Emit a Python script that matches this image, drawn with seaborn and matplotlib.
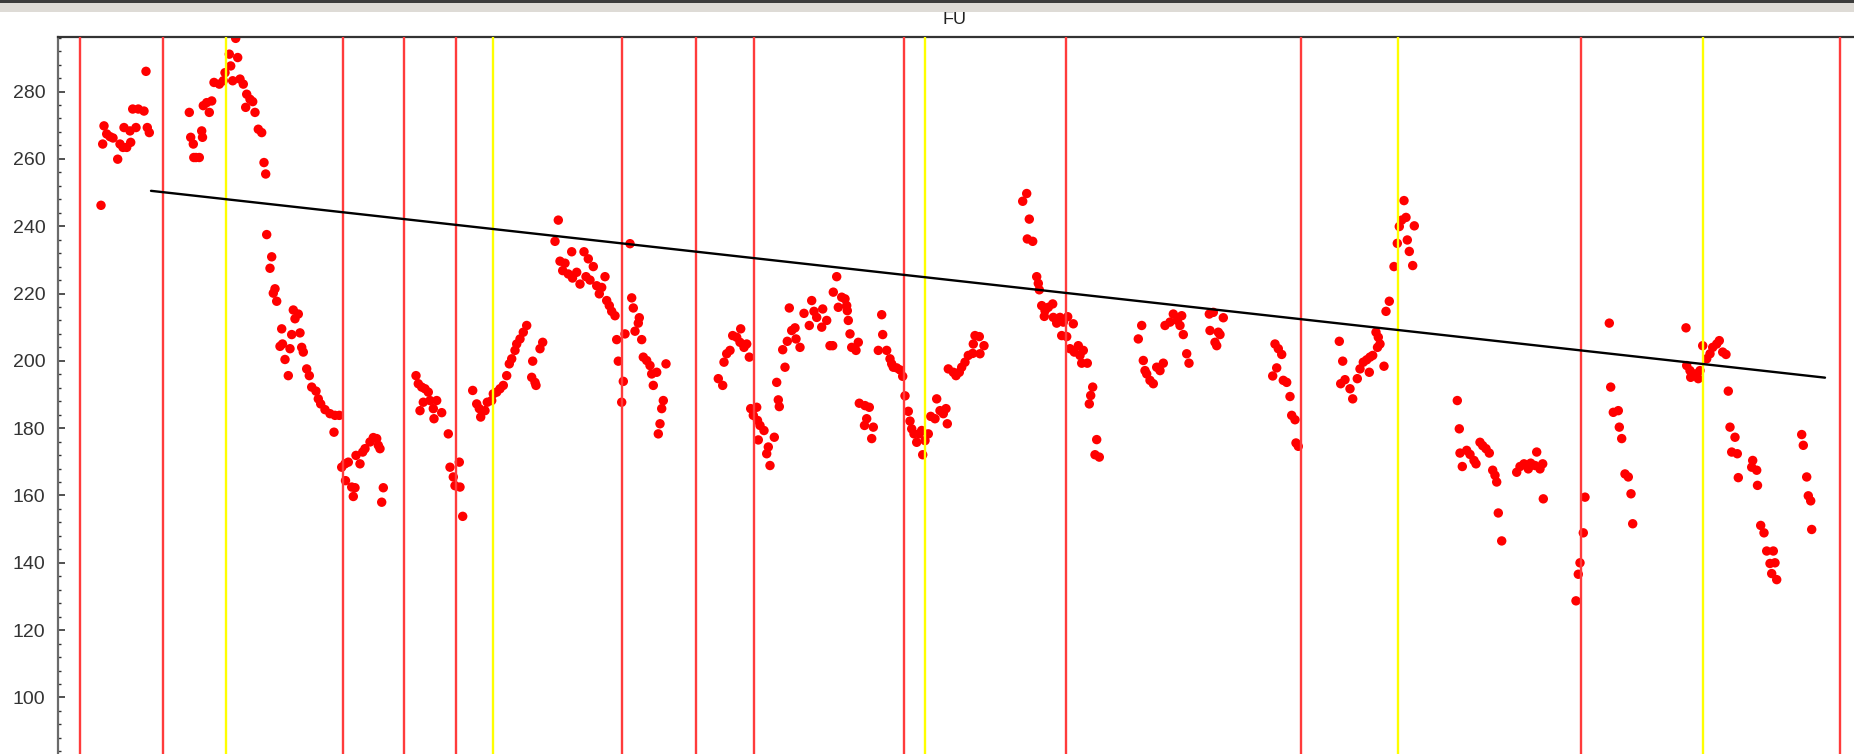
import matplotlib
matplotlib.use("Agg")
import matplotlib.pyplot as plt
from matplotlib.patches import Rectangle
from matplotlib.ticker import MultipleLocator
import pandas as pd
import seaborn as sns

# F0 track (Hz) against time index
t = [43, 44.7, 46, 48.7, 52, 55, 59.7, 62, 65, 66, 68.7, 72, 72.7, 74.7, 78, 80.3, 86, 88, 89.3, 91.3,
     131.3, 132.7, 135.3, 135.8, 138, 141.3, 143.7, 144.5, 145.3, 148.7, 151.3, 153.7, 156, 161.3, 165.3,
     167, 171.3, 172.7, 174.7, 177.7, 179.7, 182, 185.3, 187.7, 188.7, 192, 194.7, 197, 200.3, 203.7,
     206, 207.7, 208.7, 212, 213.7, 215.3, 217, 218.7, 222, 223.7, 224.5, 227, 230.3, 232, 233.7, 235.3,
     237, 240.3, 242, 243.7, 245.3, 248.7, 251.3, 253.7, 258, 260.3, 262.7, 267, 272, 276, 277, 281.3,
     283.7, 287, 287.5, 290.3, 293.7, 295.3, 297, 298, 302, 304.7, 307, 312, 315.3, 318.7, 320.3, 322,
     323.7, 325.3,
     358, 360.3, 362, 363.7, 365.3, 367, 370.3, 372, 375.3, 376, 378.7, 383.7, 390.3, 392, 395.3, 397,
     401.3, 402, 404.7,
     414.7, 418.7, 421.3, 422.7, 427, 429.3, 433.7, 435.3, 438.7, 442, 445.3, 448.7, 451.3, 453.7, 457,
     458.7, 462, 465.3, 468.7, 473.7, 474.7, 477, 478, 482, 484.7,
     497, 500.3, 502, 504.7, 507, 510.3, 513.7, 514.5, 518.7, 522, 526, 528, 530.3, 532, 535.3, 538.7,
     541.3, 543.7, 547, 548.7, 551.3, 553.7, 557, 558.7, 560.3, 563.7, 565.3, 567, 572, 573.7, 575.3,
     577, 580.3, 581.3, 583.7, 585.3, 588.7, 592, 593.7, 595.3, 598.7, 600.3, 602, 603.7, 605.3, 608,
     660.3, 664.7, 666, 668.7, 672, 674.7, 678.7, 682, 682.7, 686, 688.7, 691.3,
     692.7, 695.3, 698.7, 699.5, 700.3, 702, 706, 708.7, 710.3, 712, 716.3, 718.7, 720.3, 721.3, 724.7,
     727, 729.3, 731.3, 733.7, 737, 738, 742, 746, 751.3, 753.7, 756, 758.7, 763.7, 764.7, 768.7, 772,
     774.7, 775.3, 778.7, 780.3, 783.7, 787, 788.7, 789.3, 790.3, 792, 793.7, 798, 800.3,
     801.3, 807, 811.3, 808.7, 806.5, 815.3, 813.7,
     820.3, 823.7, 824.7, 828.7, 832, 833.7, 835.3, 838.7, 842, 844.7, 847, 850.3, 852, 853.7, 856,
     858.7, 861.3, 863.7, 864.7, 867, 870.3, 872.7, 877, 878.7, 882, 885.3, 888, 889.3,
     890.3, 895.3, 898, 901.3, 903.7, 907, 910.3, 914.7, 915.3, 917, 921.3, 922, 926,
     964.7, 968.7, 969.3, 971.3, 974.7, 978.7, 980.3, 981.3, 983.7, 986.3, 987, 990.3, 994.7, 995.3,
     998.7, 1002, 1003.7, 1005.3, 1008.7, 1009.7, 1012, 1015.3, 1016.3, 1020.3, 1022, 1023.7, 1025.3,
     1029.3, 1031.3, 1032.7, 1034.7, 1037, 1038.7, 1041.3,
     1080.3, 1083.7, 1085.3, 1087, 1088.7, 1092, 1095.3, 1098.7, 1102, 1105.3, 1107, 1112, 1115.3,
     1119.3, 1122, 1123.7, 1125.3, 1128.7, 1131,
     1151.3, 1152, 1155.3, 1157, 1158.7, 1160.3, 1162, 1165.3,
     1214.7, 1217, 1218.7, 1220.3, 1223.7, 1225.3, 1228.7, 1232, 1233.7, 1237, 1238, 1240.3,
     1281.3, 1282.7, 1284.7, 1287, 1292, 1294.7, 1299.3, 1302, 1305.3, 1308.7, 1311.3, 1312, 1314.7,
     1318, 1320.3, 1319.5, 1322, 1326, 1328, 1331.3, 1336, 1339.3, 1341.3, 1343.7, 1346, 1348, 1349.3,
     1351.3, 1354.7, 1356.3,
     1399.3, 1401.3, 1402, 1404.3, 1408.7, 1412, 1416, 1418, 1422, 1424.7, 1428, 1431.3, 1434.7, 1437,
     1438.7, 1440.3, 1443.7, 1458.7, 1462, 1466, 1470.3, 1472.7, 1477, 1478.7, 1482, 1484.7, 1485.3,
     1518, 1520.3, 1522, 1525.3, 1527,
     1551.3, 1552.7, 1555.3, 1560.3, 1561.3, 1563.7, 1567, 1570.3, 1573, 1574.7,
     1628, 1628.7, 1632, 1632.7, 1637, 1640.3, 1642, 1644.7, 1648.7, 1652, 1654.7, 1658.7, 1661.3,
     1664.7, 1668, 1670.3, 1672, 1673.7, 1677, 1679.3, 1680.3,
     1693.7, 1694.7, 1698.7, 1699.5, 1702.7, 1706, 1708.7, 1712, 1713.7, 1715.3, 1717, 1718.7,
     1743.7, 1745.3, 1748.7, 1750.3, 1752.7, 1753.7]

fu = [246.2, 264.4, 269.8, 267.4, 266.6, 266.2, 259.9, 264.4, 263.4, 269.3, 263.4, 268.3, 264.9, 274.8,
      269.3, 274.8, 274.2, 286.0, 269.3, 267.8,
      273.8, 266.4, 264.4, 260.4, 260.4, 260.4, 268.3, 266.4, 275.8, 276.7, 273.8, 277.2, 282.7, 282.2,
      283.2, 285.6, 291.1, 287.6, 283.2, 295.8, 290.1, 283.7, 282.2, 275.3, 279.2, 277.7, 277.0, 273.8,
      268.8, 267.8, 258.9, 255.5, 237.5, 227.5, 230.9, 220.1, 221.4, 217.7, 204.3, 209.5, 205.0, 200.4,
      195.6, 203.6, 207.8, 215.1, 212.5, 213.9, 208.3, 204.0, 202.6, 197.6, 195.6, 192.2, 191.0, 188.7,
      187.2, 185.5, 184.3, 178.8, 183.8, 183.8,
      168.4, 169.4, 164.4, 169.9, 162.5, 159.7, 162.3, 171.9, 169.4, 172.9, 173.9, 175.9, 177.2, 176.9,
      174.9, 173.9, 158.0, 162.3,
      195.6, 193.2, 185.2, 192.2, 187.7, 191.7, 190.7, 188.2, 185.8, 182.8, 188.2, 184.6, 178.3, 168.4,
      165.5, 162.9, 169.9, 162.5, 153.8,
      191.2, 187.2, 185.8, 183.3, 185.2, 187.7, 188.2, 190.2, 190.7, 191.7, 192.7, 195.6, 199.1, 200.6,
      203.1, 205.0, 206.5, 208.5, 210.5, 195.1, 199.9, 193.6, 192.7, 203.6, 205.5,
      235.5, 241.8, 229.6, 226.8, 229.0, 225.8, 232.4, 224.6, 226.3, 222.8, 232.4, 225.0, 230.3, 224.0,
      228.0, 222.3, 219.9, 221.8, 225.0, 217.9, 216.4, 214.7, 213.4, 206.3, 199.9, 187.7, 193.9, 208.0,
      234.8, 218.7, 215.7, 208.8, 211.2, 212.8, 206.3, 201.1, 200.1, 198.6, 196.1, 192.7, 196.6, 178.3,
      181.3, 185.8, 188.2, 199.1,
      194.7, 192.7, 199.6, 202.1, 203.1, 207.5, 207.0, 205.5, 209.5, 204.0, 205.0, 201.1,
      185.8, 183.8, 186.2, 182.3, 176.5, 180.8, 179.3, 172.4, 174.4, 168.9, 177.3, 193.6, 188.4, 186.4,
      203.3, 198.1, 205.8, 215.7, 209.0, 209.8, 206.5, 204.0, 214.1, 210.5, 217.9, 214.7, 212.9, 210.0,
      215.4, 212.0, 204.5, 204.5, 220.4, 225.0, 215.9, 218.9, 218.4, 216.4, 214.9, 212.0, 208.0, 204.0,
      203.1, 205.5,
      187.4, 186.7, 186.2, 182.8, 180.8, 180.3, 176.9,
      203.1, 213.7, 207.8, 203.1, 200.6, 199.1, 198.1, 197.9, 197.3, 195.4, 189.6, 185.0, 182.1, 179.8,
      178.3, 175.8, 178.3, 179.3, 172.1, 176.3, 178.3, 183.5, 182.8, 188.7, 185.2, 184.3, 185.8, 181.3,
      197.6, 196.6, 195.6, 196.6, 198.1, 199.6, 201.6, 202.2, 205.0, 207.5, 207.2, 202.1, 204.5,
      247.4, 249.7, 236.2, 242.1, 235.5, 225.0, 223.0, 221.1, 216.4, 213.2, 214.9, 215.9, 216.9, 212.9,
      211.2, 212.9, 207.5, 211.5, 207.2, 213.1, 203.6, 211.0, 202.6, 204.5, 201.6, 199.3, 203.1, 199.3,
      187.2, 189.7, 192.2, 172.1, 176.6, 171.4,
      206.5, 210.5, 200.1, 197.1, 196.1, 194.2, 193.2, 198.1, 197.1, 199.3, 210.5, 211.5, 213.9, 212.0,
      210.5, 213.4, 207.8, 202.1, 199.3,
      213.9, 209.0, 214.4, 205.5, 204.5, 208.5, 207.8, 212.8,
      195.5, 205.0, 197.9, 203.6, 201.9, 194.2, 193.6, 189.4, 183.8, 182.5, 175.6, 174.6,
      205.8, 193.2, 199.9, 194.4, 191.7, 188.7, 194.7, 197.6, 199.6, 200.3, 196.6, 201.1, 201.6, 208.5,
      207.0, 204.0, 205.0, 198.4, 214.7, 217.7, 228.0, 234.9, 239.9, 241.8, 247.6, 242.6, 235.9, 232.5,
      228.3, 240.1,
      188.2, 179.8, 172.6, 168.6, 173.4, 172.2, 170.4, 169.4, 175.8, 174.8, 173.9, 172.6, 167.5, 166.0,
      164.0, 154.8, 146.5, 166.9, 168.6, 169.4, 167.9, 169.6, 168.9, 172.9, 167.9, 169.4, 159.0,
      128.7, 136.6, 140.0, 148.9, 159.5,
      211.2, 192.2, 184.7, 185.2, 180.3, 176.9, 166.4, 165.5, 160.5, 151.6,
      209.8, 198.6, 197.1, 195.1, 196.1, 194.7, 197.1, 204.5, 200.6, 202.1, 204.0, 205.0, 206.0, 202.6,
      201.9, 191.0, 180.3, 172.9, 177.3, 172.4, 165.3,
      168.4, 170.4, 167.5, 163.0, 151.1, 148.9, 143.5, 139.8, 136.8, 143.5, 140.0, 135.0,
      178.1, 174.9, 165.5, 159.9, 158.4, 149.9]

# Segment boundaries (red) and syllable centres (yellow)
red_marks = [22, 105, 285, 346, 398, 564, 638, 696, 846, 1008, 1243, 1523, 1782]
yellow_marks = [168, 435, 867, 1340, 1645]

# Declination trend line end points
trend_t = [93, 1767]
trend_fu = [250.5, 195.0]

df = pd.DataFrame({"t": t, "fu": fu})
trend = pd.DataFrame({"t": trend_t, "fu": trend_fu})

sns.set_theme(style="white")
plt.rcParams["font.family"] = ["Liberation Sans", "DejaVu Sans"]

W, H = 1854, 754
fig = plt.figure(figsize=(W / 100, H / 100), dpi=100)
fig.patch.set_facecolor("white")
left_px, top_px = 58, 37
ax = fig.add_axes([left_px / W, 0, (W - left_px) / W, (H - top_px) / H])
ax.set_facecolor("white")

sns.scatterplot(data=df, x="t", y="fu", ax=ax, color="#ff0000", s=46,
                edgecolor="none", linewidth=0, zorder=2, legend=False)
for xm in red_marks:
    ax.axvline(xm, color="#ff3b3b", lw=1.7, zorder=3)
for xm in yellow_marks:
    ax.axvline(xm, color="#ffff00", lw=1.7, zorder=3)
sns.lineplot(data=trend, x="t", y="fu", ax=ax, color="black", lw=1.7, zorder=4)

ax.set_xlim(0, W - left_px)
ax.set_ylim(83.2, 296.2)
ax.set_xlabel("")
ax.set_ylabel("")
ax.set_xticks([])
ax.yaxis.set_major_locator(MultipleLocator(20))
ax.yaxis.set_minor_locator(MultipleLocator(4))
ax.tick_params(axis="y", which="major", direction="in", length=5, width=1.2,
               color="#333333", labelsize=14, labelcolor="#333333", pad=9, left=True)
ax.tick_params(axis="y", which="minor", direction="in", length=2.5, width=1.0,
               color="#333333", left=True)

for side in ("right", "bottom"):
    ax.spines[side].set_visible(False)
ax.spines["top"].set_color("#333333")
ax.spines["top"].set_linewidth(1.6)
ax.spines["left"].set_color("#6a6a6a")
ax.spines["left"].set_linewidth(1.6)

fig.text(954 / W, 1 - 19 / H, "FU", ha="center", va="center",
         fontsize=13, color="#222222")

# window header strip
fig.patches.append(Rectangle((0, 1 - 12 / H), 1, 12 / H, transform=fig.transFigure,
                             facecolor="#dedbd6", edgecolor="none", zorder=10))
fig.patches.append(Rectangle((0, 1 - 2.5 / H), 1, 2.5 / H, transform=fig.transFigure,
                             facecolor="#3c3c3c", edgecolor="none", zorder=11))

fig.savefig("out.png", dpi=100)
